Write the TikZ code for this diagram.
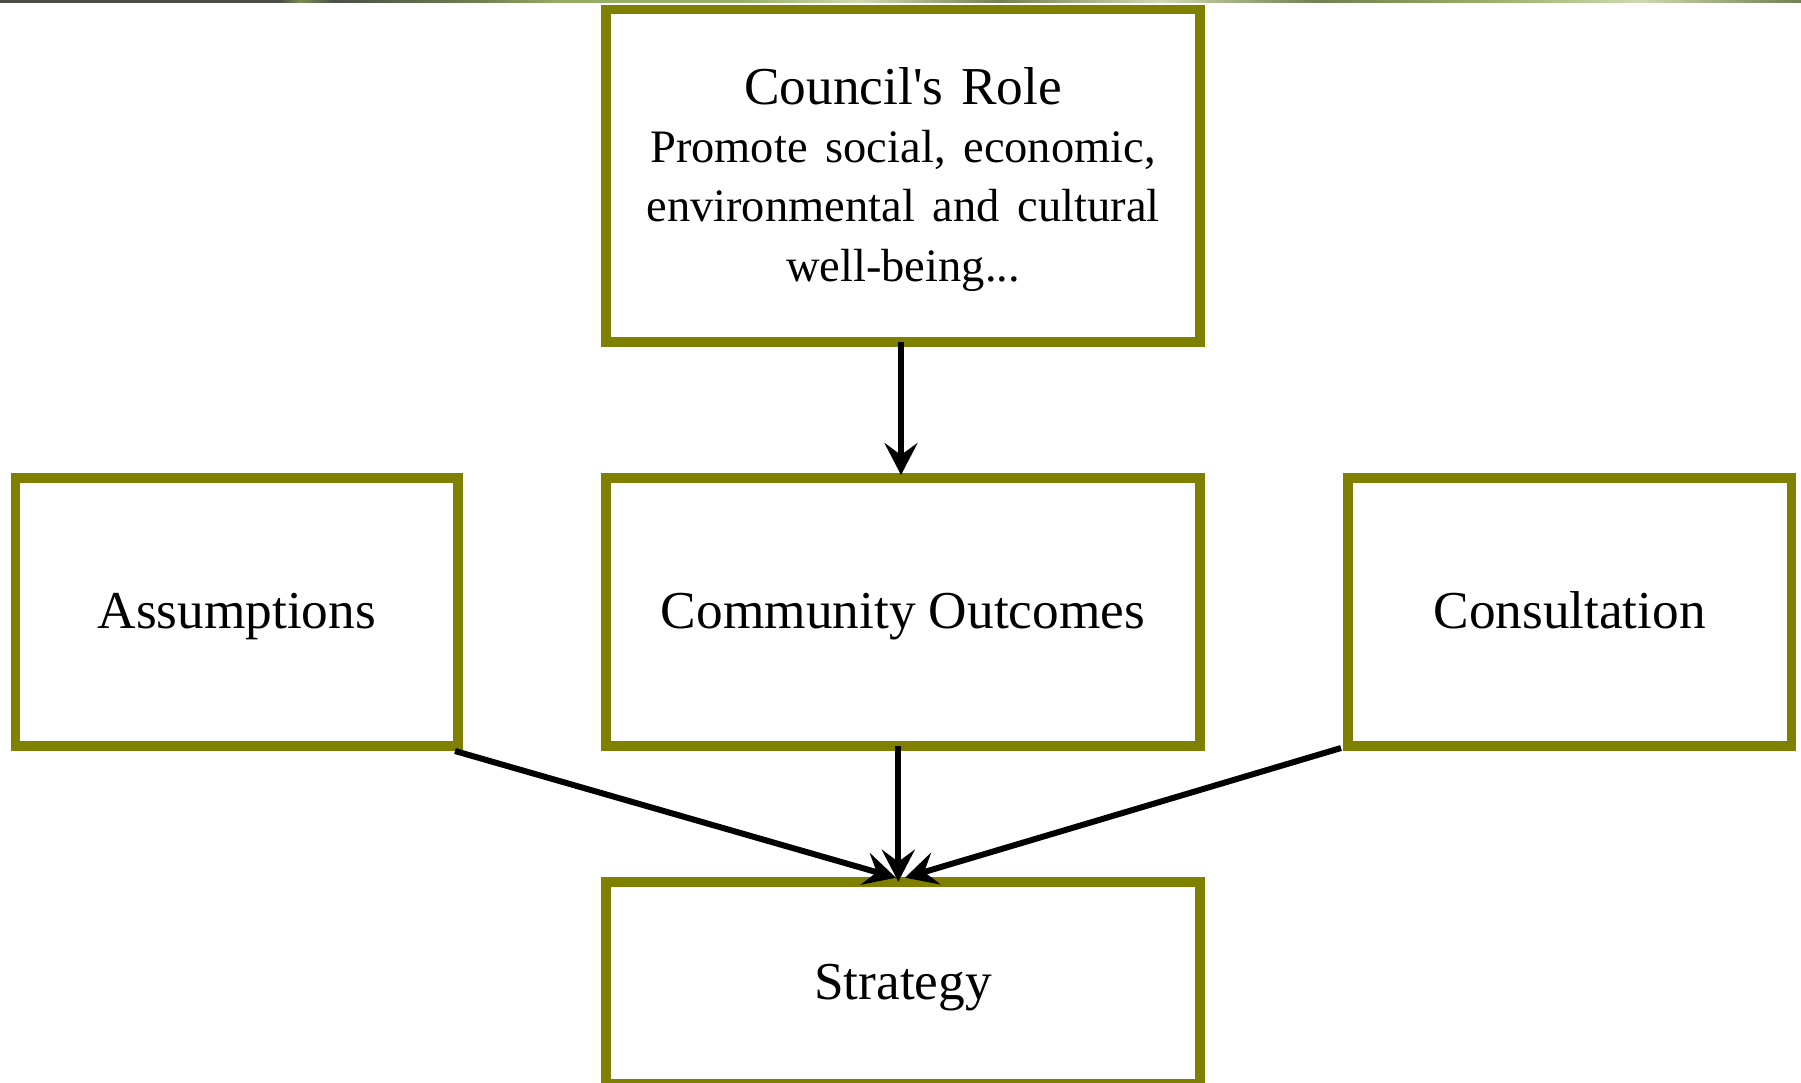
\documentclass[tikz,border=0pt]{standalone}
\usepackage{fontspec}
\setmainfont{Liberation Serif}
\newfontfamily\bodyserif[WordSpace=0.8]{Liberation Serif}
\usetikzlibrary{arrows.meta,calc}

\definecolor{olivebox}{RGB}{128,128,0}
\definecolor{bandA}{RGB}{74,80,70}
\definecolor{bandB}{RGB}{122,140,82}
\definecolor{bandC}{RGB}{150,174,100}
\definecolor{bandD}{RGB}{205,218,175}
\definecolor{bandE}{RGB}{112,128,80}

\begin{document}
\begin{tikzpicture}[x=1pt,y=-1pt,
  box/.style={draw=olivebox, line width=9.6pt, fill=white, inner sep=0pt,
    outer sep=0pt, font=\fontsize{53.3}{60}\selectfont},
  onebox/.style={box, text height=44pt, text depth=11.4pt},
  link/.style={line width=6pt, -{Stealth[length=32pt,width=33pt,inset=12pt]}}]
\useasboundingbox (0,0) rectangle (1801,1082);
\clip (0,0) rectangle (1801,1082);

% thin photographic band along the top edge
\foreach \xa/\xb/\ca/\cb in {0/280/bandA/bandA, 280/300/bandA/bandB,
    300/335/bandB/bandA, 335/480/bandA/bandE, 480/560/bandE/bandC,
    560/740/bandC/bandC, 740/860/bandC/bandD, 860/1000/bandD/bandE,
    1000/1160/bandE/bandD, 1160/1320/bandD/bandE, 1320/1480/bandE/bandC,
    1480/1640/bandC/bandD, 1640/1801/bandD/bandE}
  \shade[left color=\ca, right color=\cb] (\xa,0) rectangle (\xb,2.2);

% boxes
\node[box, minimum width=594pt, minimum height=332.5pt, text width=580pt,
      align=center] (role) at (903,175.75)
  {{\fontsize{53.3}{59}\selectfont\rule{0pt}{43.6pt}\mbox{Council\textquotesingle s Role}}\\
   \bodyserif\fontsize{46.5}{58.5}\selectfont \mbox{Promote social, economic,}\\
   \mbox{environmental and cultural}\\ \mbox{well-being...}};

\node[onebox, minimum width=442.5pt, minimum height=268pt] (assump)
  at (236.75,612) {Assumptions};
\node[onebox, minimum width=594pt, minimum height=268pt] (outcomes)
  at (903,612) {Community Outcomes};
\node[onebox, minimum width=443.3pt, minimum height=268pt] (consult)
  at (1569.65,612) {Consultation};
\node[onebox, minimum width=594pt, minimum height=202.3pt] (strategy)
  at (903,982.85) {Strategy};

% connectors
\draw[link] ($(role.south)+(-2,0)$) -- ($(outcomes.north)+(-2,-3)$);
\draw[link] ($(outcomes.south)+(-4.7,0)$) -- ($(strategy.north)+(-4.7,0)$);
\draw[link] ($(assump.south east)+(-3,5)$) -- ($(strategy.north)+(-7,-4)$);
\draw[link] ($(consult.south west)+(-7,2)$) -- ($(strategy.north)+(2,-4)$);
\end{tikzpicture}
\end{document}
